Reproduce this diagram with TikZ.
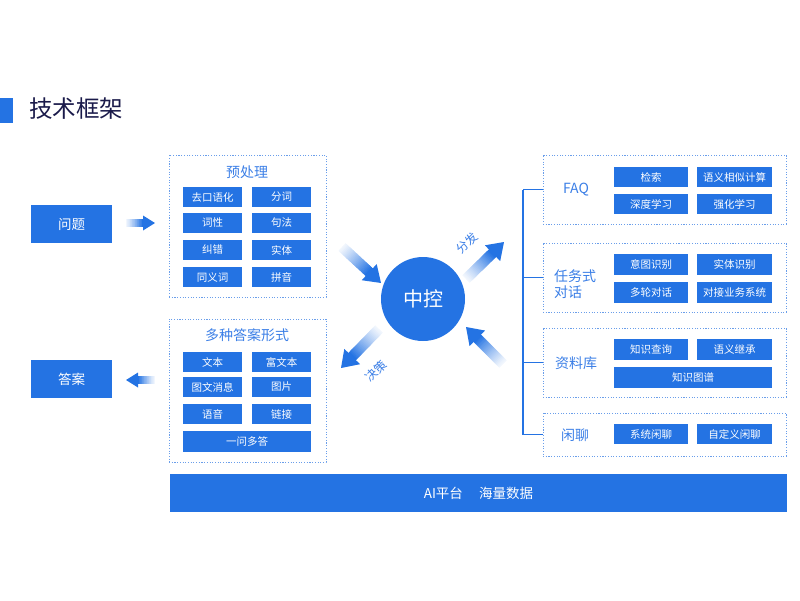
\documentclass[tikz,border=0pt]{standalone}
\usepackage{fontspec}
\setmainfont{Noto Sans CJK SC}
\definecolor{mblue}{HTML}{2473E3}
\definecolor{dblue}{HTML}{6A9EEA}
\definecolor{lblue}{HTML}{3A7EE6}
\definecolor{navy}{HTML}{1A1A4A}
\tikzset{
  cellbox/.style={fill=mblue, text=white, inner sep=0pt, font=\fontsize{10.5}{12}\selectfont},
  bigbox/.style={fill=mblue, text=white, inner sep=0pt, font=\fontsize{13.5}{15}\selectfont},
  grpbox/.style={draw=dblue, line width=0.9pt, dash pattern=on 1.1pt off 1.6pt, inner sep=0pt},
  grptitle/.style={text=lblue, inner sep=0pt, font=\fontsize{14}{16}\selectfont},
  arrlabel/.style={text=lblue, inner sep=0pt, font=\fontsize{12}{14}\selectfont, rotate=45},
  trunk/.style={draw=mblue, line width=1.6pt},
}
% name, x1, y1, x2, y2, style, text
\newcommand\pxbox[7]{\node[#6, minimum width={#4-#2}, minimum height={#5-#3}] (#1) at ({(#2+#4)/2},{(#3+#5)/2}) {#7};}
% x1 y1 x2 y2 shaftwidth headlength headhalfwidth
\newcommand\garrow[7]{%
  \pgfmathsetmacro\gaang{atan2(-(#4-#2),#3-#1)}%
  \pgfmathsetmacro\galen{veclen(#3-#1,#4-#2)}%
  \pgfmathsetmacro\gashaft{\galen-#6}%
  \begin{scope}[shift={(#1,#2)},rotate=\gaang]
    \foreach \i in {0,...,23}{
      \pgfmathsetmacro\pct{min(100,4+96*((\i+1)/24)^1.2)}
      \fill[mblue!\pct!white] ({\gashaft*\i/24},{-#5/2}) rectangle ({\gashaft*(\i+1)/24+0.5},{#5/2});
    }
    \fill[mblue] (\gashaft,{-#7}) -- (\galen,0) -- (\gashaft,{#7}) -- cycle;
  \end{scope}
}
\begin{document}
\begin{tikzpicture}[x=1pt,y=-1pt]
\useasboundingbox (0,0) rectangle (800,600);
% title
\fill[mblue] (0,98) rectangle (13,123);
\node[anchor=west, text=navy, inner sep=0pt, font=\fontsize{23.5}{26}\selectfont] (title) at (29,109) {技术框架};

% left boxes
\pxbox{q}{31}{205}{112}{243}{bigbox}{问题}
\pxbox{a}{31}{360}{112}{398}{bigbox}{答案}
\garrow{126}{223}{155}{223}{8}{12}{7.5}
\garrow{155}{380}{126}{380}{8}{12}{7.5}

% preprocessing group
\pxbox{pre}{169}{155}{326}{297}{grpbox}{}
\node[grptitle] (pret) at (247,172) {预处理};
\pxbox{p1}{183}{187}{242}{207}{cellbox}{去口语化}
\pxbox{p2}{252}{187}{311}{207}{cellbox}{分词}
\pxbox{p3}{183}{213}{242}{233}{cellbox}{词性}
\pxbox{p4}{252}{213}{311}{233}{cellbox}{句法}
\pxbox{p5}{183}{240}{242}{260}{cellbox}{纠错}
\pxbox{p6}{252}{240}{311}{260}{cellbox}{实体}
\pxbox{p7}{183}{267}{242}{287}{cellbox}{同义词}
\pxbox{p8}{252}{267}{311}{287}{cellbox}{拼音}

% answer forms group
\pxbox{ans}{169}{319}{326}{462}{grpbox}{}
\node[grptitle] (anst) at (247,335) {多种答案形式};
\pxbox{r1}{183}{352}{242}{372}{cellbox}{文本}
\pxbox{r2}{252}{352}{311}{372}{cellbox}{富文本}
\pxbox{r3}{183}{377}{242}{397}{cellbox}{图文消息}
\pxbox{r4}{252}{377}{311}{397}{cellbox}{图片}
\pxbox{r5}{183}{404}{242}{424}{cellbox}{语音}
\pxbox{r6}{252}{404}{311}{424}{cellbox}{链接}
\pxbox{r7}{183}{431}{311}{452}{cellbox}{一问多答}

% center
\node[circle, fill=mblue, text=white, minimum size=84pt, inner sep=0pt, font=\fontsize{20}{22}\selectfont] (ctrl) at (423,299) {中控};
\garrow{342}{247}{381}{283}{10.5}{16}{11}
\garrow{466}{279}{504}{242}{10.5}{16}{11}
\garrow{503}{364}{466}{327}{10.5}{16}{11}
\garrow{379}{329}{341}{368}{10.5}{16}{11}
\node[arrlabel] (fenfa) at (467,243) {分发};
\node[arrlabel] (jue) at (376,371) {决策};

% right groups
\pxbox{faq}{543}{155}{786}{224}{grpbox}{}
\node[grptitle] (faqt) at (576,190) {FAQ};
\pxbox{f1}{614}{167}{688}{187}{cellbox}{检索}
\pxbox{f2}{697}{167}{772}{187}{cellbox}{语义相似计算}
\pxbox{f3}{614}{194}{688}{214}{cellbox}{深度学习}
\pxbox{f4}{697}{194}{772}{214}{cellbox}{强化学习}

\pxbox{task}{543}{243}{786}{312}{grpbox}{}
\node[grptitle, anchor=west, align=left, font=\fontsize{14}{16.5}\selectfont] (taskt) at (554,284) {任务式\\对话};
\pxbox{t1}{614}{254}{688}{275}{cellbox}{意图识别}
\pxbox{t2}{697}{254}{772}{275}{cellbox}{实体识别}
\pxbox{t3}{614}{282}{688}{303}{cellbox}{多轮对话}
\pxbox{t4}{697}{282}{772}{303}{cellbox}{对接业务系统}

\pxbox{kb}{543}{328}{786}{397}{grpbox}{}
\node[grptitle] (kbt) at (576,363) {资料库};
\pxbox{k1}{614}{339}{688}{360}{cellbox}{知识查询}
\pxbox{k2}{697}{339}{772}{360}{cellbox}{语义继承}
\pxbox{k3}{614}{367}{772}{388}{cellbox}{知识图谱}

\pxbox{chat}{543}{413}{786}{456}{grpbox}{}
\node[grptitle] (chatt) at (575,435) {闲聊};
\pxbox{c1}{614}{424}{688}{444}{cellbox}{系统闲聊}
\pxbox{c2}{697}{424}{772}{444}{cellbox}{自定义闲聊}

% tree
\coordinate (ttop) at (523,189.5);
\coordinate (tbot) at (523,434.5);
\draw[trunk] (ttop) -- (tbot);
\draw[trunk] (ttop) -- (faq.west);
\draw[trunk] (523,277.5) -- (task.west);
\draw[trunk] (523,362.5) -- (kb.west);
\draw[trunk] (tbot) -- (chat.west);

% bottom bar
\pxbox{bar}{170}{474}{787}{512}{bigbox}{AI平台\hspace{1.2em}海量数据}
\end{tikzpicture}
\end{document}
